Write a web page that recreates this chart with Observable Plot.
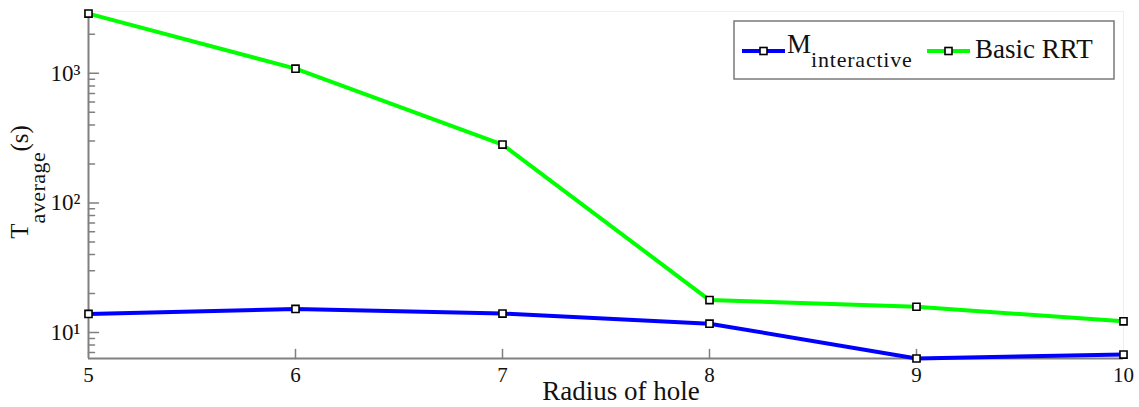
<!DOCTYPE html>
<html>
<head>
<meta charset="utf-8">
<script src="https://cdn.jsdelivr.net/npm/d3@7"></script>
<script src="https://cdn.jsdelivr.net/npm/@observablehq/plot@0.6"></script>
<style>
  html, body { margin: 0; padding: 0; background: #fff; }
  #chart { position: relative; width: 1139px; height: 407px; }
</style>
</head>
<body>
<div id="chart"></div>
<script>
// ---- data ----
const radius = [5, 6, 7, 8, 9, 10];
const mInteractive = [13.9, 15.2, 14.0, 11.7, 6.3, 6.76];
const basicRRT = [2890, 1087, 282, 17.8, 15.8, 12.2];
const xTicks = [5, 6, 7, 8, 9, 10];
const yMajorTicks = [10, 100, 1000];
const yMinorTicks = [7, 8, 9, 20, 30, 40, 50, 60, 70, 80, 90, 200, 300, 400, 500, 600, 700, 800, 900, 2000];
const yTickLabels = ["10\u00B9", "10\u00B2", "10\u00B3"];
const yDomain = [6.3, 3000];
const xLabel = "Radius of hole";
const yLabelMain = "T", yLabelSub = "average", yLabelUnit = "(s)";
const legendMain = "M", legendSub = "interactive", legendRRT = "Basic RRT";

const blue = "#0000ff", green = "#00ff00", axisColor = "#808080";
const font = "Liberation Serif, serif";

const tickShape = { draw(context, l) { context.moveTo(0, 0); context.lineTo(0, -l); } };

const svg = Plot.plot({
  width: 1139,
  height: 407,
  marginLeft: 88,
  marginRight: 16,
  marginTop: 11,
  marginBottom: 49,
  style: { fontFamily: font, fontSize: "20px", background: "white", color: "#111", overflow: "visible" },
  x: { domain: [radius[0], radius[radius.length - 1]] },
  y: { type: "log", domain: yDomain },
  marks: [
    Plot.frame({ stroke: "#efefef", strokeWidth: 1 }),
    Plot.ruleX([xTicks[0]], { stroke: axisColor, strokeWidth: 2 }),
    Plot.ruleY([yDomain[0]], { stroke: axisColor, strokeWidth: 2 }),
    Plot.vector(yMinorTicks, { x: () => xTicks[0], y: d => d, length: 6, rotate: 90, anchor: "start", shape: tickShape, stroke: axisColor, strokeWidth: 1.5 }),
    Plot.vector(yMajorTicks, { x: () => xTicks[0], y: d => d, length: 10, rotate: 90, anchor: "start", shape: tickShape, stroke: axisColor, strokeWidth: 1.5 }),
    Plot.vector(xTicks.slice(1, -1), { x: d => d, y: () => yDomain[0], length: 9, rotate: 0, anchor: "start", shape: tickShape, stroke: axisColor, strokeWidth: 1.5 }),
    Plot.axisX({ ticks: xTicks, tickSize: 0, tickPadding: 9, tickFormat: d => String(d), fontSize: 21, fontFamily: font, fontVariant: "normal", label: null }),
    Plot.axisY({ ticks: yMajorTicks, tickSize: 0, tickPadding: 8, tickFormat: d => yTickLabels[yMajorTicks.indexOf(d)], fontSize: 23, fontFamily: font, fontVariant: "normal", label: null }),
    Plot.line(radius, { x: d => d, y: (d, i) => basicRRT[i], stroke: green, strokeWidth: 4 }),
    Plot.line(radius, { x: d => d, y: (d, i) => mInteractive[i], stroke: blue, strokeWidth: 4 }),
    Plot.dot(radius, { x: d => d, y: (d, i) => basicRRT[i], symbol: "square", r: 4, fill: "white", stroke: "black", strokeWidth: 1.6 }),
    Plot.dot(radius, { x: d => d, y: (d, i) => mInteractive[i], symbol: "square", r: 4, fill: "white", stroke: "black", strokeWidth: 1.6 })
  ]
});

const s = d3.select(svg);

// x axis title
s.append("text")
  .attr("x", 621).attr("y", 400)
  .attr("text-anchor", "middle")
  .attr("font-family", font).attr("font-size", 27)
  .attr("fill", "#111")
  .text(xLabel);

// y axis title with subscript
const yl = s.append("text")
  .attr("transform", "translate(28,182) rotate(-90)")
  .attr("text-anchor", "middle")
  .attr("font-family", font).attr("fill", "#111");
yl.append("tspan").attr("font-size", 25).text(yLabelMain);
yl.append("tspan").attr("font-size", 22).attr("dy", 17).attr("letter-spacing", 0.5).text(yLabelSub);
yl.append("tspan").attr("font-size", 25).attr("dy", -17).text(yLabelUnit);

// legend
const lg = s.append("g").attr("font-family", font).attr("fill", "#111").attr("text-anchor", "start");
lg.append("rect").attr("x", 734).attr("y", 21).attr("width", 380).attr("height", 58)
  .attr("fill", "white").attr("stroke", "#7a7a7a").attr("stroke-width", 1.5);
function legendSwatch(x0, y0, color) {
  lg.append("line").attr("x1", x0).attr("x2", x0 + 43).attr("y1", y0).attr("y2", y0)
    .attr("stroke", color).attr("stroke-width", 4);
  lg.append("rect").attr("x", x0 + 18).attr("y", y0 - 3.5).attr("width", 7).attr("height", 7)
    .attr("fill", "white").attr("stroke", "black").attr("stroke-width", 1.6);
}
legendSwatch(742, 51, blue);
legendSwatch(927, 51, green);
const t1 = lg.append("text").attr("x", 787).attr("y", 53).attr("text-anchor", "start");
t1.append("tspan").attr("font-size", 27).text(legendMain);
t1.append("tspan").attr("font-size", 22).attr("dy", 14).attr("letter-spacing", 0.8).text(legendSub);
lg.append("text").attr("x", 975).attr("y", 58).attr("text-anchor", "start").attr("font-size", 27).text(legendRRT);

document.getElementById("chart").appendChild(svg);
</script>
</body>
</html>
